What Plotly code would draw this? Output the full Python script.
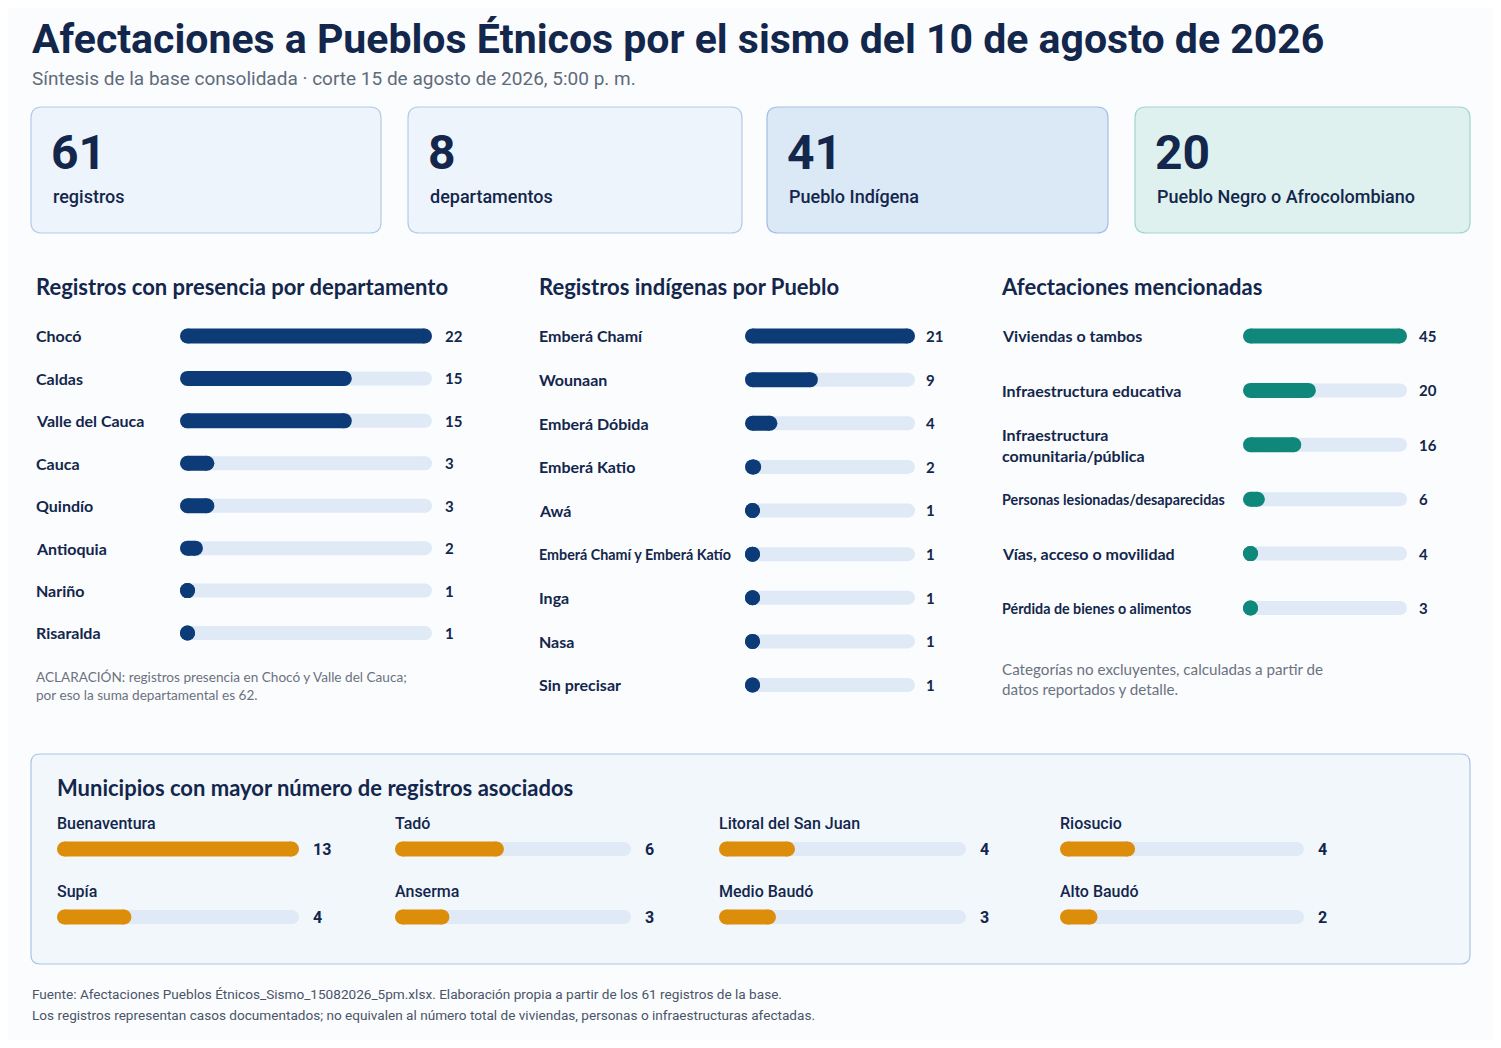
import plotly.graph_objects as go

# ---- data ------------------------------------------------------------------
kpi_values = [61, 8, 41, 20]
kpi_labels = ["registros", "departamentos", "Pueblo Indígena",
              "Pueblo Negro o Afrocolombiano"]

dept_names = ["Chocó", "Caldas", "Valle del Cauca", "Cauca", "Quindío",
              "Antioquia", "Nariño", "Risaralda"]
dept_counts = [22, 15, 15, 3, 3, 2, 1, 1]

pueblo_names = ["Emberá Chamí", "Wounaan", "Emberá Dóbida", "Emberá Katio", "Awá",
                "Emberá Chamí y Emberá Katío", "Inga", "Nasa", "Sin precisar"]
pueblo_counts = [21, 9, 4, 2, 1, 1, 1, 1, 1]

afect_names = ["Viviendas o tambos", "Infraestructura educativa",
               "Infraestructura<br>comunitaria/pública",
               "Personas lesionadas/desaparecidas", "Vías, acceso o movilidad",
               "Pérdida de bienes o alimentos"]
afect_counts = [45, 20, 16, 6, 4, 3]

muni_names = ["Buenaventura", "Tadó", "Litoral del San Juan", "Riosucio",
              "Supía", "Anserma", "Medio Baudó", "Alto Baudó"]
muni_counts = [13, 6, 4, 4, 4, 3, 3, 2]

TITLE = "Afectaciones a Pueblos Étnicos por el sismo del 10 de agosto de 2026"
SUBTITLE = "Síntesis de la base consolidada · corte 15 de agosto de 2026, 5:00 p. m."

# ---- page geometry ---------------------------------------------------------
# the html body adds an 8 px margin, so the figure is drawn 8 px smaller each side
OFF = 8
W, H = 1501 - 2 * OFF, 1048 - 2 * OFF

NAVY = "#13264b"
GREY = "#5f6b7a"
TRACK = "#dfeaf6"
BLUE = "#0c3b78"
TEAL = "#0f877a"
ORANGE = "#dc8d09"


def px(x):
    return (x - OFF) / W


def py(y):
    return 1 - (y - OFF) / H


def rounded_rect(x0, y0, x1, y1, r, fill, line):
    X0, X1, Y0, Y1 = px(x0), px(x1), py(y0), py(y1)
    rx, ry = r / W, r / H
    path = (f"M{X0 + rx},{Y0} L{X1 - rx},{Y0} Q{X1},{Y0} {X1},{Y0 - ry} "
            f"L{X1},{Y1 + ry} Q{X1},{Y1} {X1 - rx},{Y1} L{X0 + rx},{Y1} "
            f"Q{X0},{Y1} {X0},{Y1 + ry} L{X0},{Y0 - ry} Q{X0},{Y0} {X0 + rx},{Y0} Z")
    return dict(type="path", xref="paper", yref="paper", path=path,
                fillcolor=fill, line=dict(color=line, width=1.2), layer="below")


def text(x, y, s, size, color=NAVY, family="Roboto", weight=400, **kw):
    d = dict(x=x, y=y, text=s, showarrow=False, xanchor="left", yanchor="middle",
             align="left", xshift=-2,
             font=dict(size=size, color=color, family=family, weight=weight))
    d.setdefault("xref", "paper")
    d.setdefault("yref", "paper")
    d.update(kw)
    return d


fig = go.Figure()
shapes, annotations, axes = [], [], {}


def pill_traces(xa, ya, rows, counts, vmax, track_px, color, bar_w=15, track_w=14):
    """Track + value bar as thick lines capped with round markers."""
    ppu = track_px / vmax
    rt, rb = track_w / 2 / ppu, bar_w / 2 / ppu
    tx, ty, bx, by = [], [], [], []
    for r, v in zip(rows, counts):
        tx += [rt, vmax - rt, None]
        ty += [r, r, None]
        bx += [rb, max(v - rb, rb), None]
        by += [r, r, None]
    fig.add_trace(go.Scatter(x=tx, y=ty, xaxis=xa, yaxis=ya, mode="lines+markers",
                             line=dict(color=TRACK, width=track_w),
                             marker=dict(color=TRACK, size=track_w, line=dict(width=0)),
                             hoverinfo="skip", cliponaxis=False, showlegend=False))
    fig.add_trace(go.Scatter(x=bx, y=by, xaxis=xa, yaxis=ya, mode="lines+markers",
                             line=dict(color=color, width=bar_w),
                             marker=dict(color=color, size=bar_w, line=dict(width=0)),
                             hoverinfo="skip", cliponaxis=False, showlegend=False))


def set_axes(k, x0, x1, top, bottom, vmax, nrows):
    sx = "" if k == 1 else str(k)
    axes[f"xaxis{sx}"] = dict(domain=[px(x0), px(x1)], range=[0, vmax], visible=False,
                              fixedrange=True, anchor=f"y{sx}")
    axes[f"yaxis{sx}"] = dict(domain=[py(bottom), py(top)], range=[nrows - 0.5, -0.5],
                              visible=False, fixedrange=True, anchor=f"x{sx}")
    return f"x{sx}", f"y{sx}"


def panel(k, names, counts, label_x, x0, x1, first, last, color, val_shift):
    n = len(names)
    step = (last - first) / (n - 1)
    vmax = max(counts)
    xa, ya = set_axes(k, x0, x1, first - step / 2, last + step / 2, vmax, n)
    rows = list(range(n))
    pill_traces(xa, ya, rows, counts, vmax, x1 - x0, color)
    for r, name, v in zip(rows, names, counts):
        longest = max(len(part) for part in name.split("<br>"))
        size = 14.3 if longest > 26 else 16
        annotations.append(text(px(label_x), r, name, size, family="Lato", weight=700,
                                yref=ya))
        annotations.append(text(vmax, r, str(v), 15, family="Lato", weight=700,
                                xref=xa, yref=ya, xshift=val_shift))


# ---- header ----------------------------------------------------------------
annotations.append(text(px(32), py(39), TITLE, 41, weight=700))
annotations.append(text(px(32), py(78), SUBTITLE, 19, color=GREY))

cards = [(31, 381, "#eef4fb", "#b3cbe8"), (408, 742, "#eef4fb", "#b3cbe8"),
         (767, 1108, "#dbe8f6", "#a3bfe6"), (1135, 1470, "#dff1ee", "#a1d6cd")]
for (cx0, cx1, fill, line), v, lab in zip(cards, kpi_values, kpi_labels):
    shapes.append(rounded_rect(cx0, 107, cx1, 233, 11, fill, line))
    annotations.append(text(px(cx0 + 20), py(152), str(v), 48, weight=700))
    annotations.append(text(px(cx0 + 22), py(196), lab, 18, weight=500))

# ---- three bar panels ------------------------------------------------------
annotations.append(text(px(36), py(286), "Registros con presencia por departamento", 22,
                        family="Lato", weight=700))
annotations.append(text(px(539), py(286), "Registros indígenas por Pueblo", 22,
                        family="Lato", weight=700))
annotations.append(text(px(1001), py(286), "Afectaciones mencionadas", 22,
                        family="Lato", weight=700))

panel(1, dept_names, dept_counts, 36, 180, 432, 336, 633, BLUE, 11)
panel(2, pueblo_names, pueblo_counts, 539, 745, 915, 336, 685, BLUE, 9)
panel(3, afect_names, afect_counts, 1002, 1243, 1407, 336, 608, TEAL, 10)

annotations.append(text(px(36), py(686),
                        "ACLARACIÓN: registros presencia en Chocó y Valle del Cauca;<br>"
                        "por eso la suma departamental es 62.", 13.6, color="#6b7280",
                        family="Lato"))
annotations.append(text(px(1002), py(679),
                        "Categorías no excluyentes, calculadas a partir de<br>"
                        "datos reportados y detalle.", 15.2, color="#6b7280",
                        family="Lato"))

# ---- municipios box --------------------------------------------------------
shapes.append(rounded_rect(31, 754, 1470, 964, 9, "#f2f7fc", "#a9c3e4"))
annotations.append(text(px(57), py(787), "Municipios con mayor número de registros asociados",
                        22, family="Lato", weight=700))

columns = [(57, 299), (395, 631), (719, 966), (1060, 1304)]
muni_max = max(muni_counts)
for c, (cx0, cx1) in enumerate(columns):
    idx = [i for i in range(len(muni_names)) if i % 4 == c]
    rows = [i // 4 for i in idx]
    vals = [muni_counts[i] for i in idx]
    xa, ya = set_axes(4 + c, cx0, cx1, 815, 951, muni_max, 2)
    pill_traces(xa, ya, rows, vals, muni_max, cx1 - cx0, ORANGE, bar_w=15, track_w=14)
    for r, i in zip(rows, idx):
        annotations.append(text(px(cx0), r, muni_names[i], 16, weight=500, yref=ya,
                                yshift=26))
        annotations.append(text(muni_max, r, str(muni_counts[i]), 16, weight=700,
                                xref=xa, yref=ya, xshift=12))

# ---- footer ----------------------------------------------------------------
annotations.append(text(px(32), py(994),
                        "Fuente: Afectaciones Pueblos Étnicos_Sismo_15082026_5pm.xlsx. "
                        "Elaboración propia a partir de los 61 registros de la base.",
                        13.6, color="#4a5568"))
annotations.append(text(px(32), py(1015),
                        "Los registros representan casos documentados; no equivalen al "
                        "número total de viviendas, personas o infraestructuras afectadas.",
                        13.6, color="#4a5568"))

fig.update_layout(
    width=W, height=H,
    margin=dict(l=0, r=0, t=0, b=0),
    paper_bgcolor="#fbfcfe",
    plot_bgcolor="rgba(0,0,0,0)",
    shapes=shapes,
    annotations=annotations,
    showlegend=False,
    **axes,
)

fig.write_html("out.html", config={"displayModeBar": False})
